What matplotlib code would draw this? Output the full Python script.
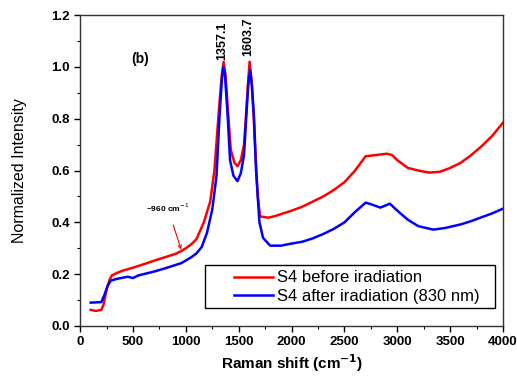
import numpy as np
import matplotlib
matplotlib.use("Agg")
from matplotlib import pyplot as plt
from matplotlib.ticker import MultipleLocator
from matplotlib.patches import Rectangle

plt.rcParams['font.family'] = 'sans-serif'
plt.rcParams['font.sans-serif'] = ['Liberation Sans', 'DejaVu Sans']

# S4 before iradiation (red)
red_x = [100, 150, 200, 220, 250, 280, 300, 350, 400, 500, 600, 700, 800, 900, 960,
         1000, 1050, 1100, 1170, 1230, 1270, 1310, 1340, 1357, 1375, 1400, 1425, 1460,
         1488, 1520, 1550, 1570, 1590, 1603, 1620, 1640, 1660, 1680, 1702, 1780, 1850,
         2000, 2100, 2200, 2300, 2400, 2500, 2600, 2700, 2800, 2900, 2950, 3000, 3100,
         3200, 3300, 3400, 3500, 3600, 3700, 3800, 3900, 4000]
red_y = [0.062, 0.058, 0.062, 0.080, 0.140, 0.180, 0.195, 0.205, 0.213, 0.225, 0.238,
         0.252, 0.265, 0.278, 0.290, 0.300, 0.315, 0.335, 0.400, 0.480, 0.600, 0.820,
         0.970, 1.020, 0.970, 0.820, 0.680, 0.630, 0.617, 0.640, 0.700, 0.820, 0.950,
         1.020, 0.950, 0.820, 0.650, 0.500, 0.423, 0.418, 0.425, 0.445, 0.460, 0.480,
         0.500, 0.525, 0.555, 0.600, 0.655, 0.660, 0.665, 0.660, 0.640, 0.610, 0.600,
         0.592, 0.595, 0.610, 0.630, 0.660, 0.695, 0.735, 0.785]

# S4 after iradiation 830 nm (blue)
blue_x = [100, 200, 230, 260, 290, 350, 450, 500, 550, 700, 800, 900, 960, 1050, 1100,
          1150, 1200, 1250, 1290, 1317, 1340, 1355, 1370, 1397, 1418, 1450, 1488, 1520,
          1550, 1570, 1590, 1608, 1625, 1645, 1664, 1696, 1730, 1797, 1900, 2000, 2100,
          2200, 2300, 2400, 2500, 2600, 2700, 2750, 2840, 2930, 3000, 3100, 3200, 3340,
          3450, 3600, 3700, 3800, 3900, 4000]
blue_y = [0.090, 0.092, 0.120, 0.155, 0.175, 0.182, 0.190, 0.185, 0.195, 0.210, 0.222,
          0.235, 0.243, 0.265, 0.280, 0.305, 0.360, 0.450, 0.580, 0.800, 0.950, 1.000,
          0.970, 0.800, 0.640, 0.580, 0.559, 0.590, 0.660, 0.800, 0.930, 0.990, 0.930,
          0.800, 0.600, 0.400, 0.340, 0.310, 0.310, 0.318, 0.325, 0.338, 0.355, 0.375,
          0.400, 0.440, 0.476, 0.470, 0.457, 0.472, 0.445, 0.410, 0.385, 0.372, 0.378,
          0.392, 0.405, 0.420, 0.435, 0.453]

peaks = [1357.1, 1603.7]

fig = plt.figure(figsize=(5.17, 3.79), dpi=100)
ax = fig.add_axes([0.155, 0.140, 0.818, 0.820])

ax.plot(red_x, red_y, color="red", lw=1.8, label="S4 before iradiation")
ax.plot(blue_x, blue_y, color="blue", lw=1.8, label="S4 after iradiation (830 nm)")

ax.set_xlim(0, 4000)
ax.set_ylim(0, 1.2)
ax.xaxis.set_major_locator(MultipleLocator(500))
ax.xaxis.set_minor_locator(MultipleLocator(250))
ax.yaxis.set_major_locator(MultipleLocator(0.2))
ax.yaxis.set_minor_locator(MultipleLocator(0.1))
ax.yaxis.set_major_formatter(plt.FormatStrFormatter('%.1f'))
ax.tick_params(which='both', direction='out', top=False, right=False)
ax.tick_params(which='major', length=4, width=1)
ax.tick_params(which='minor', length=2.5, width=0.8)
for lab in ax.get_xticklabels() + ax.get_yticklabels():
    lab.set_fontweight('bold')
    lab.set_fontsize(9.5)
for sp in ax.spines.values():
    sp.set_linewidth(1.0)
    sp.set_color('#333333')

ax.set_xlabel(r"Raman shift (cm$^{\mathbf{-1}}$)", fontsize=11, fontweight='bold', labelpad=3)
ax.set_ylabel("Normalized Intensity", fontsize=11.5, labelpad=17)

ax.text(567, 1.03, "(b)", fontsize=10, fontweight='bold', ha='center', va='center')
ax.text(peaks[0] - 10, 1.10, "1357.1", rotation=90, fontsize=9, fontweight='bold',
        ha='center', va='center')
ax.text(peaks[1] - 10, 1.115, "1603.7", rotation=90, fontsize=9, fontweight='bold',
        ha='center', va='center')

ax.annotate(r"~960 cm$^{-1}$", xy=(955, 0.295), xytext=(830, 0.455),
            fontsize=6, fontweight='bold', ha='center', va='center',
            arrowprops=dict(arrowstyle='->', color='red', lw=0.8, shrinkA=6, shrinkB=0))

# legend box drawn by hand: the original has a wide empty margin on the left
ax.add_patch(Rectangle((0.2955, 0.058), 0.686, 0.139, transform=ax.transAxes,
                       facecolor='white', edgecolor='black', lw=1.0, zorder=4))
leg = ax.legend(loc='center left', bbox_to_anchor=(0.364, 0.125), borderaxespad=0,
                borderpad=0, frameon=False, fontsize=12, handlelength=2.35,
                labelspacing=0.2, handletextpad=0.2)
leg.set_zorder(5)

fig.savefig("out.png", dpi=100)
